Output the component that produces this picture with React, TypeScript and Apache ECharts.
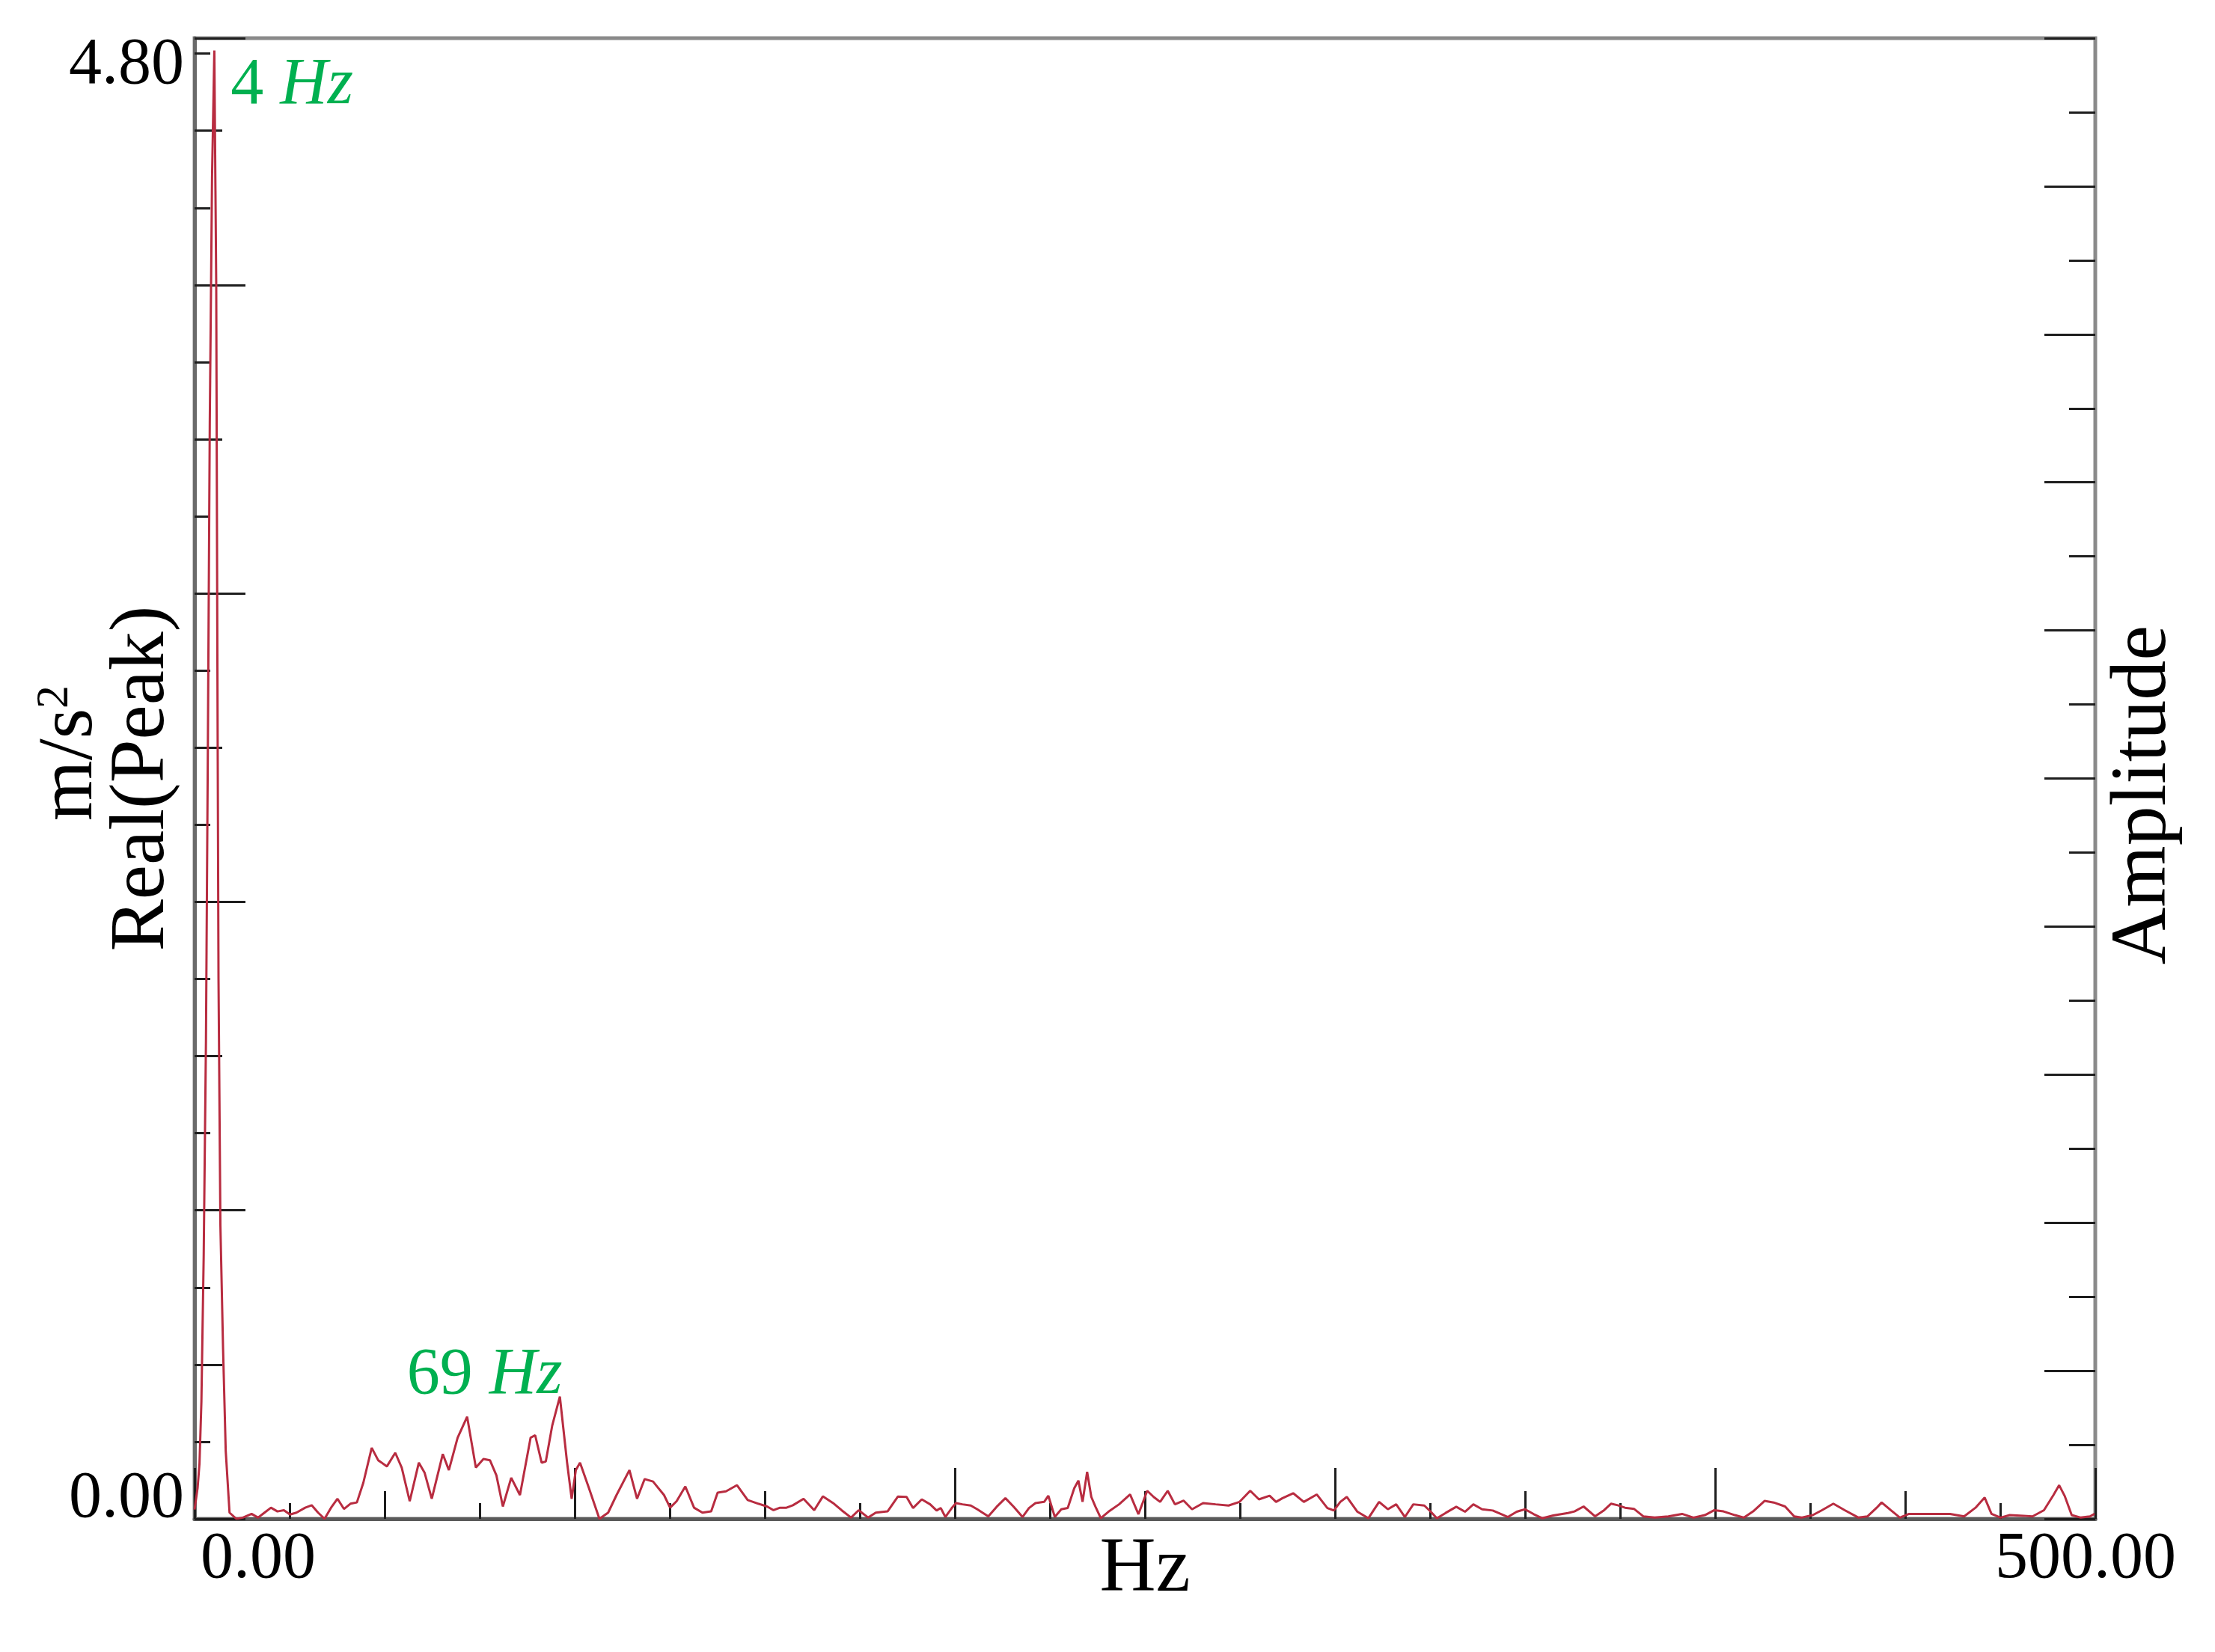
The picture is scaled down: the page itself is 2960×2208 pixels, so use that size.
import React, { useEffect, useRef } from 'react';
import * as echarts from 'echarts';

// Spectrum (frequency in Hz, amplitude in m/s^2)
const freqHz = [
  0.0, 0.8, 1.3, 1.8, 2.4, 3.0, 3.5, 4.0, 4.6, 5.2, 5.7, 6.0, 6.3, 6.8, 7.5, 8.2, 9.2,
  11.0, 12.7, 15.0, 16.7, 18.4, 20.1, 21.8, 23.5, 25.1, 26.8, 29.1, 30.8, 32.5, 34.2, 35.9,
  37.6, 39.3, 41.0, 42.7, 44.4, 46.6, 48.3, 50.6, 52.8, 54.5, 56.6, 59.0, 60.5, 62.4, 65.3,
  66.9, 69.2, 71.7, 74.0, 76.0, 77.7, 79.4, 81.1, 83.3, 85.6, 88.4, 89.6, 91.3, 92.4, 94.1,
  96.1, 98.0, 99.2, 100.3, 101.4, 103.7, 106.5, 108.8, 111.0, 114.4, 116.4, 118.4, 120.6,
  123.5, 125.1, 126.8, 129.1, 131.4, 133.6, 135.9, 137.6, 139.8, 142.7, 145.5, 148.3, 150.6,
  152.3, 154.0, 155.7, 157.4, 160.2, 163.0, 165.3, 168.2, 170.2, 172.7, 174.7, 177.2, 179.2,
  182.3, 185.0, 187.3, 189.0, 191.3, 193.5, 195.2, 196.3, 197.5, 199.2, 200.3, 202.0, 204.2,
  205.9, 208.8, 211.0, 213.3, 215.5, 217.8, 219.5, 221.2, 223.5, 224.6, 226.3, 228.0, 229.7,
  231.4, 232.5, 233.6, 234.8, 235.9, 237.0, 238.4, 240.4, 243.2, 246.1, 248.3, 250.6, 252.3,
  254.0, 256.0, 257.9, 260.2, 262.4, 265.3, 268.6, 272.0, 274.9, 277.7, 280.0, 282.8, 284.5,
  286.2, 289.0, 291.8, 295.2, 298.0, 299.7, 301.4, 303.1, 305.9, 308.8, 311.6, 313.9, 316.1,
  318.4, 320.6, 323.5, 325.2, 326.8, 329.1, 331.9, 334.2, 336.4, 338.7, 341.5, 343.8, 345.5,
  347.8, 350.0, 352.3, 354.5, 357.4, 361.3, 363.0, 365.4, 368.4, 370.8, 372.6, 374.4, 376.3,
  378.7, 381.1, 384.1, 387.7, 391.3, 394.3, 397.3, 399.8, 402.2, 405.2, 407.6, 410.0, 413.0,
  415.4, 418.4, 420.8, 422.7, 425.7, 428.1, 431.1, 434.1, 437.7, 440.1, 442.5, 443.8, 446.2,
  448.6, 451.0, 453.4, 458.2, 461.8, 465.5, 468.5, 470.9, 472.7, 475.1, 477.5, 481.1, 483.5,
  486.5, 489.0, 490.5, 492.0, 493.8, 496.2, 498.6, 499.8
];

const amplitude = [
  0.03, 0.10, 0.18, 0.38, 0.85, 1.55, 2.50, 3.55, 4.35, 4.76, 4.00, 2.80, 1.75, 0.95, 0.55, 0.22, 0.02,
  0.000, 0.004, 0.016, 0.004, 0.020, 0.036, 0.024, 0.028, 0.014, 0.020, 0.036, 0.044, 0.020, 0.000, 0.036,
  0.065, 0.032, 0.049, 0.053, 0.117, 0.230, 0.190, 0.170, 0.214, 0.166, 0.057, 0.182, 0.150, 0.065, 0.210,
  0.158, 0.263, 0.331, 0.166, 0.194, 0.190, 0.141, 0.040, 0.133, 0.077, 0.263, 0.271, 0.182, 0.186, 0.303,
  0.396, 0.182, 0.065, 0.158, 0.182, 0.101, 0.000, 0.020, 0.077, 0.158, 0.065, 0.129, 0.121,
  0.077, 0.036, 0.057, 0.105, 0.036, 0.020, 0.024, 0.085, 0.089, 0.109, 0.061, 0.049, 0.040,
  0.028, 0.036, 0.036, 0.044, 0.065, 0.028, 0.073, 0.049, 0.028, 0.004, 0.028, 0.004, 0.020,
  0.024, 0.072, 0.071, 0.035, 0.063, 0.047, 0.027, 0.035, 0.006, 0.035, 0.051, 0.047, 0.043,
  0.031, 0.008, 0.039, 0.067, 0.039, 0.006, 0.035, 0.051, 0.055, 0.075, 0.006, 0.031, 0.035,
  0.099, 0.124, 0.055, 0.152, 0.071, 0.039, 0.002, 0.023, 0.047, 0.079, 0.015, 0.091, 0.071,
  0.055, 0.091, 0.047, 0.059, 0.031, 0.051, 0.047, 0.043, 0.055, 0.091, 0.063, 0.075, 0.055,
  0.067, 0.083, 0.055, 0.079, 0.035, 0.027, 0.055, 0.071, 0.023, 0.002, 0.055, 0.031, 0.047,
  0.006, 0.047, 0.043, 0.023, 0.002, 0.019, 0.039, 0.023, 0.047, 0.031, 0.027, 0.015, 0.006,
  0.023, 0.031, 0.015, 0.002, 0.011, 0.019, 0.024, 0.040, 0.008, 0.028, 0.049, 0.044, 0.036,
  0.032, 0.008, 0.004, 0.008, 0.016, 0.004, 0.012, 0.028, 0.024, 0.012, 0.004, 0.024, 0.058,
  0.053, 0.040, 0.008, 0.004, 0.012, 0.028, 0.049, 0.028, 0.004, 0.008, 0.036, 0.053, 0.028,
  0.004, 0.016, 0.016, 0.016, 0.016, 0.008, 0.036, 0.069, 0.016, 0.004, 0.012, 0.010, 0.008,
  0.028, 0.077, 0.109, 0.073, 0.012, 0.004, 0.008, 0.016
];

const xTickLabels = ['0.00', '500.00'];
const yTickLabels = ['0.00', '4.80'];
const peakNames = ['4', '69'];
const peakLabelFreq = [25.6, 76.3];
const peakLabelAmp = [4.66, 0.48];

const FONT = 'Liberation Serif';

export default function App() {
  const ref = useRef<HTMLDivElement>(null);

  useEffect(() => {
    const chart = echarts.init(ref.current as HTMLDivElement, null, { renderer: 'svg' });
    const tickLine = { color: '#1e1e1e', width: 3 };

    const xAx = (interval: number, len: number, extra: any = {}) => ({
      type: 'value', min: 0, max: 500, interval, position: 'bottom',
      axisLine: { show: false },
      axisTick: { show: true, inside: true, length: len, lineStyle: tickLine },
      axisLabel: { show: false },
      splitLine: { show: false },
      ...extra,
    });
    const yAx = (interval: number, len: number, position: string, extra: any = {}) => ({
      type: 'value', min: 0, max: 4.8, interval, position,
      axisLine: { show: false },
      axisTick: { show: true, inside: true, length: len, lineStyle: tickLine },
      axisLabel: { show: false },
      splitLine: { show: false },
      ...extra,
    });

    const labelText = { color: '#000', fontFamily: FONT, fontSize: 88 };

    chart.setOption({
      animation: false,
      backgroundColor: '#ffffff',
      grid: {
        left: 260, right: 160, top: 51, bottom: 178,
        containLabel: false,
        outerBoundsMode: 'none',
        show: true, borderColor: '#8a8a8a', borderWidth: 5, backgroundColor: 'transparent',
      },
      xAxis: [
        xAx(100, 68, {
          axisLine: { show: true, lineStyle: { color: '#5a5a5a', width: 5 } },
          axisLabel: {
            show: true, margin: 4, ...labelText,
            formatter: (v: number) => (v === 0 ? `{l|${xTickLabels[0]}}` : v === 500 ? `{r|${xTickLabels[1]}}` : ''),
            rich: {
              l: { ...labelText, padding: [0, 0, 0, 170] },
              r: { ...labelText, padding: [0, 26, 0, 0] },
            },
          },
          name: 'Hz', nameLocation: 'middle', nameGap: 8, nameMoveOverlap: false,
          nameTextStyle: { color: '#000', fontFamily: FONT, fontSize: 104, verticalAlign: 'top' },
        }),
        xAx(50, 37),
        xAx(25, 21),
      ],
      yAxis: [
        yAx(1, 68, 'left', {
          axisLine: { show: true, lineStyle: { color: '#6a6a6a', width: 5 } },
          axisLabel: {
            show: true, margin: 14, ...labelText,
            formatter: (v: number) => (v === 0 ? `{b|${yTickLabels[0]}}` : v === 4.8 ? `{t|${yTickLabels[1]}}` : ''),
            rich: {
              b: { ...labelText, padding: [0, 0, 66, 0] },
              t: { ...labelText, padding: [60, 0, 0, 0] },
            },
          },
          name: '{u|m/s}{s|2}\n{a|Real(Peak)}',
          nameLocation: 'middle', nameRotate: 90, nameGap: 30, nameMoveOverlap: false,
          nameTextStyle: {
            color: '#000', fontFamily: FONT, fontSize: 104, lineHeight: 96, align: 'center',
            rich: {
              u: { color: '#000', fontFamily: FONT, fontSize: 104, lineHeight: 96, padding: [0, 0, 0, 68] },
              a: { color: '#000', fontFamily: FONT, fontSize: 104, lineHeight: 96 },
              s: { color: '#000', fontFamily: FONT, fontSize: 62, lineHeight: 96, verticalAlign: 'top' },
            },
          },
        }),
        yAx(0.5, 37, 'left'),
        yAx(0.25, 21, 'left'),
        yAx(0.48, 68, 'right', {
          name: 'Amplitude', nameLocation: 'middle', nameRotate: 90, nameGap: 4, nameMoveOverlap: false,
          nameTextStyle: { color: '#000', fontFamily: FONT, fontSize: 106, padding: [0, 44, 0, 0] },
        }),
        yAx(0.24, 35, 'right'),
      ],
      series: [
        {
          type: 'line',
          xAxisIndex: 0,
          yAxisIndex: 0,
          data: freqHz.map((f, i) => [f, amplitude[i]]),
          showSymbol: false,
          symbol: 'none',
          lineStyle: { color: '#b82c40', width: 3 },
          z: 3,
          markPoint: {
            symbol: 'circle',
            symbolSize: 0,
            silent: true,
            label: {
              show: true,
              position: 'inside',
              formatter: (p: any) => `{n|${p.name} }{i|Hz}`,
              rich: {
                n: { color: '#00b050', fontFamily: FONT, fontSize: 88 },
                i: { color: '#00b050', fontFamily: FONT, fontSize: 88, fontStyle: 'italic' },
              },
            },
            data: peakNames.map((n, i) => ({ name: n, coord: [peakLabelFreq[i], peakLabelAmp[i]] })),
          },
        },
      ],
    });

    return () => chart.dispose();
  }, []);

  return (
    <div
      ref={ref}
      style={{ position: 'fixed', left: 0, top: 0, width: 2960, height: 2208, background: '#ffffff' }}
    />
  );
}
